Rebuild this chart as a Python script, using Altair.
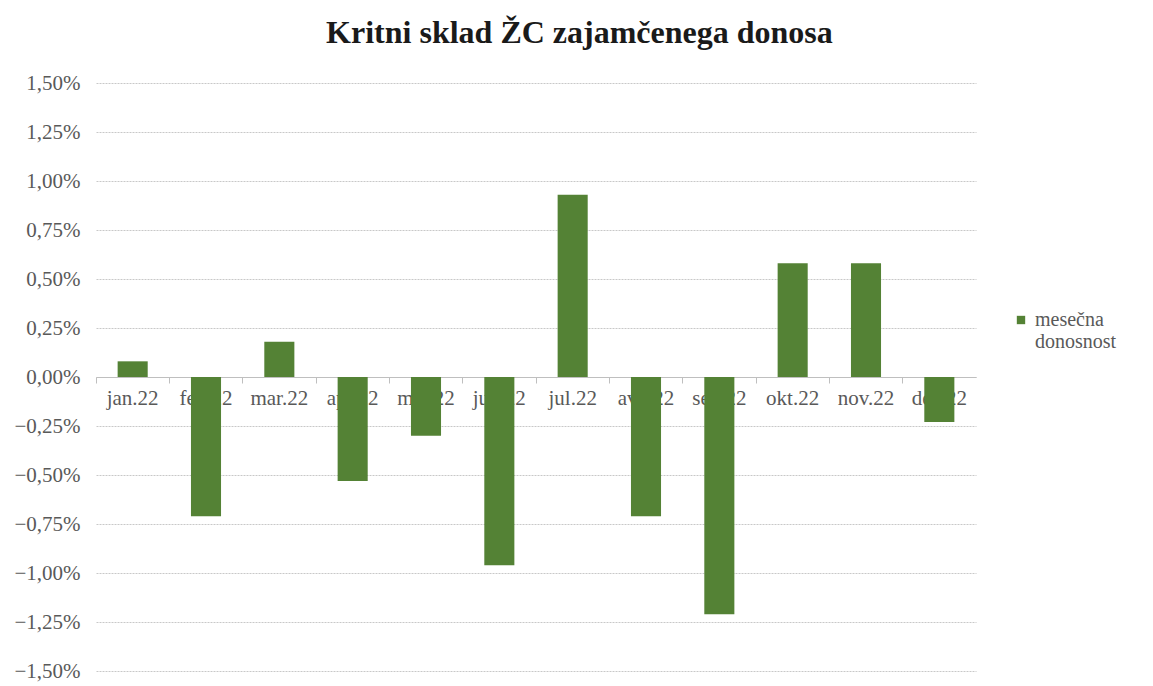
import altair as alt
import pandas as pd

months = ["jan.22", "feb.22", "mar.22", "apr.22", "maj.22", "jun.22",
          "jul.22", "avg.22", "sep.22", "okt.22", "nov.22", "dec.22"]
values = [0.08, -0.71, 0.18, -0.53, -0.30, -0.96, 0.93, -0.71, -1.21, 0.58, 0.58, -0.23]
series = ["mesečna donosnost"] * len(months)
y_ticks = [-1.5, -1.25, -1.0, -0.75, -0.5, -0.25, 0, 0.25, 0.5, 0.75, 1.0, 1.25, 1.5]

df = pd.DataFrame({"mesec": months, "donos": values, "serija": series})

FONT = "Liberation Serif"
H = 588
W = 880
P_IN = 0.59
P_OUT = 0.295
step = W / (len(months) - P_IN + 2 * P_OUT)
bandw = step * (1 - P_IN)
tick_band = -(P_OUT * step) / bandw

x_scale = alt.Scale(paddingInner=P_IN, paddingOuter=P_OUT)
y_scale = alt.Scale(domain=[-1.5, 1.5], nice=False)

chart = alt.Chart(df).mark_bar(color="#548235").encode(
    x=alt.X("mesec:N", sort=months, scale=x_scale, title=None,
            axis=alt.Axis(orient="bottom", offset=-H / 2, labelAngle=0,
                          ticks=True, tickSize=6, tickColor="#bfbfbf",
                          bandPosition=tick_band,
                          domain=True, domainColor="#bfbfbf", labelFontSize=21,
                          labelColor="#595959", labelFont=FONT, labelPadding=4,
                          labelBaseline="top", grid=False)),
    y=alt.Y("donos:Q", scale=y_scale, title=None,
            axis=alt.Axis(values=y_ticks,
                          labelExpr="replace(format(datum.value, '.2f'), '.', ',') + '%'",
                          domain=False, ticks=False, labelFontSize=21, labelColor="#595959",
                          labelFont=FONT, labelPadding=16,
                          grid=True, gridColor="#c8c8c8", gridDash=[2, 1])),
    color=alt.Color("serija:N", scale=alt.Scale(range=["#548235"]),
                    legend=alt.Legend(title=None, orient="none", legendX=915, legendY=227,
                                      symbolType="square", symbolSize=70,
                                      labelFont=FONT, labelFontSize=20,
                                      labelColor="#595959",
                                      labelExpr="['mesečna', 'donosnost']",
                                      labelLimit=200)),
).properties(
    width=W, height=H,
    padding={"top": 9, "left": 5, "right": 5, "bottom": 5},
    title=alt.TitleParams("Kritni sklad ŽC zajamčenega donosa", font=FONT, fontSize=32,
                          fontWeight="bold", color="#1a1a1a", anchor="middle",
                          frame="bounds", offset=22, dx=14),
).configure(background="white").configure_view(strokeWidth=0)

chart.save("out.html", embed_options={"renderer": "svg", "actions": False})
